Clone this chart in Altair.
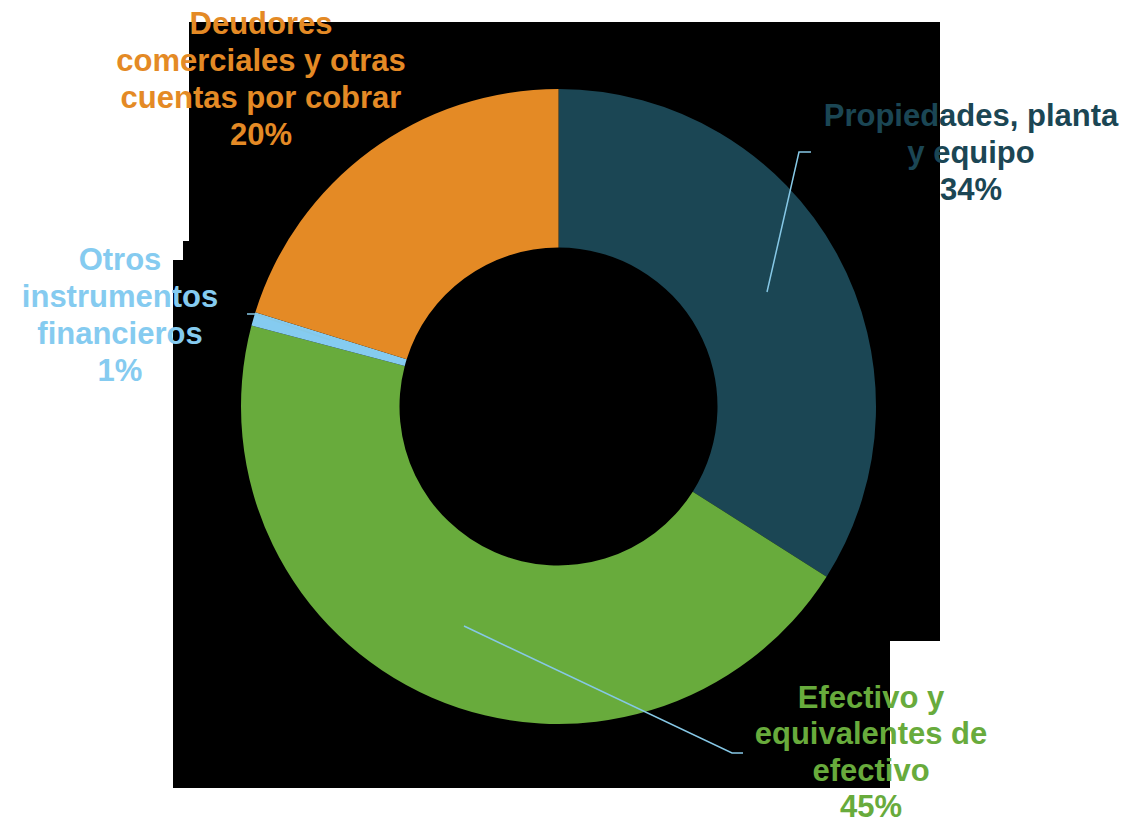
import altair as alt
import pandas as pd

# ---- data ----
categories = ["Propiedades, planta y equipo", "Efectivo y equivalentes de efectivo",
              "Otros instrumentos financieros", "Deudores comerciales y otras cuentas por cobrar"]
values = [34.0, 45.1, 0.7, 20.2]
pct_labels = ["34%", "45%", "1%", "20%"]
label_lines = [
    ["Propiedades, planta", "y equipo"],
    ["Efectivo y", "equivalentes de", "efectivo"],
    ["Otros", "instrumentos", "financieros"],
    ["Deudores", "comerciales y otras", "cuentas por cobrar"],
]
colors = ["#1B4654", "#68AB3C", "#85CBF0", "#E48A25"]

# ---- layout (screen pixels) ----
W, H = 1115, 814
M = 8
center = (558.5, 406.5)
r_outer, r_inner = 317.5, 159
label_centers = [(971, 117), (871, 699), (120, 261), (261, 25)]
line_steps = [37, 36.3, 37, 37]
bg_rects = [  # x1, x2, y1, y2
    (189, 940, 22, 641),
    (183, 890, 241, 788),
    (173, 890, 260, 788),
]
leaders = [
    [(767, 292), (799, 152), (811, 152)],
    [(464, 626), (732, 753), (743, 753)],
    [(330, 340), (256, 314), (247, 314)],
]

xs = alt.Scale(domain=[M, M + W], nice=False, zero=False)
ys = alt.Scale(domain=[M, M + H], nice=False, zero=False, reverse=True)
cscale = alt.Scale(domain=categories, range=colors)

bg_df = pd.DataFrame(bg_rects, columns=["x1", "x2", "y1", "y2"])
bg = alt.Chart(bg_df).mark_rect(color="black").encode(
    x=alt.X("x1:Q", scale=xs, axis=None), x2="x2:Q",
    y=alt.Y("y1:Q", scale=ys, axis=None), y2="y2:Q",
)

pie_df = pd.DataFrame({"cat": categories, "val": values, "ord": list(range(len(values)))})
donut = alt.Chart(pie_df).mark_arc(innerRadius=r_inner, outerRadius=r_outer, strokeWidth=0).encode(
    theta=alt.Theta("val:Q", stack=True),
    order=alt.Order("ord:Q"),
    color=alt.Color("cat:N", scale=cscale, legend=None),
    x=alt.value(center[0] - M), y=alt.value(center[1] - M),
)

lrows = []
for gi, pts in enumerate(leaders):
    for si, (px, py) in enumerate(pts):
        lrows.append({"g": gi, "s": si, "x": px, "y": py})
lead = alt.Chart(pd.DataFrame(lrows)).mark_line(color="#86C8E6", strokeWidth=1.5).encode(
    x=alt.X("x:Q", scale=xs, axis=None), y=alt.Y("y:Q", scale=ys, axis=None),
    detail="g:N", order="s:Q",
)

trows = []
for cat, lines, pct, (cx, cy), step in zip(categories, label_lines, pct_labels, label_centers, line_steps):
    for i, t in enumerate(lines + [pct]):
        trows.append({"cat": cat, "t": t, "x": cx, "y": cy + i * step})
texts = alt.Chart(pd.DataFrame(trows)).mark_text(
    font="Liberation Sans", fontWeight="bold", fontSize=31, baseline="middle", align="center"
).encode(
    x=alt.X("x:Q", scale=xs, axis=None), y=alt.Y("y:Q", scale=ys, axis=None),
    text="t:N", color=alt.Color("cat:N", scale=cscale, legend=None),
)

chart = alt.layer(bg, donut, lead, texts).properties(
    width=W, height=H, autosize="none", padding=0, background="white"
).configure_view(stroke=None)

chart.save("out.html", embed_options={"renderer": "svg", "actions": False})
